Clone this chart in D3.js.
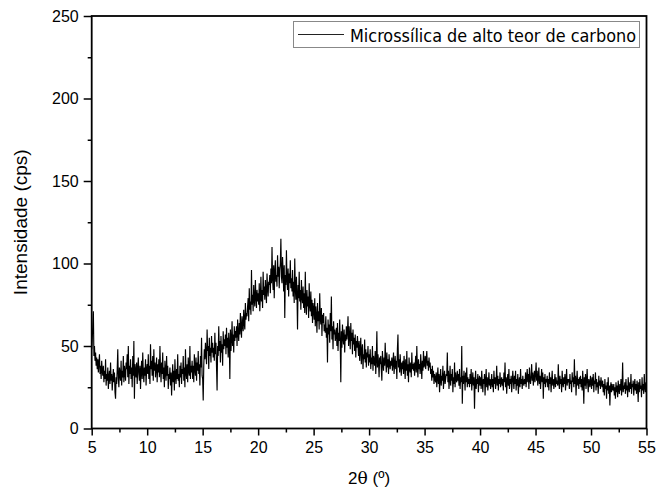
<!DOCTYPE html>
<html lang="pt">
<head>
<meta charset="utf-8">
<title>DRX microssílica</title>
<script src="https://cdn.jsdelivr.net/npm/d3@7"></script>
<style>
  body { margin: 0; background: #fff; }
  text { font-family: "Liberation Sans", Arial, sans-serif; fill: #000; }
</style>
</head>
<body>
<script>
// 2theta grid of the scan: start, step (degrees)
var start = 5, step = 0.05;
// intensity (cps), one row per degree
var counts = [
  48,55,62,71,44,50,41,46,38,43,36,42,34,40,45,33,38,30,41,35,
  32,38,28,35,30,42,26,33,29,37,24,31,35,27,40,29,33,23,30,36,
  28,34,22,18,31,27,36,48,30,25,37,33,29,41,26,35,31,44,28,38,
  34,29,40,36,45,31,50,27,38,33,42,30,37,25,44,32,53,18,39,35,
  31,40,27,36,43,33,29,38,24,35,41,30,46,34,28,37,32,42,26,36,
  39,33,45,30,38,27,51,36,41,32,44,29,48,35,40,31,37,43,28,39,
  34,42,31,50,36,28,40,33,46,30,37,25,41,35,29,44,32,38,24,33,
  30,37,26,34,20,31,39,28,35,23,42,32,27,36,30,45,29,33,25,38,
  31,40,27,36,33,44,29,37,25,48,34,30,39,28,43,35,32,50,30,38,
  34,41,30,38,28,45,36,32,43,29,40,35,47,33,39,26,44,37,55,32,
  30,17,38,48,42,52,45,39,60,47,50,36,55,44,49,40,56,46,52,43,
  49,41,58,45,52,37,23,50,44,62,47,53,40,56,46,51,38,59,48,54,
  50,57,45,61,49,55,43,58,52,30,60,47,54,65,50,57,46,62,53,59,
  55,62,50,66,58,53,64,57,70,61,55,68,63,59,72,64,60,76,66,70,
  68,74,79,65,85,72,77,69,96,75,81,71,87,78,74,90,80,73,84,77,
  82,75,88,71,80,92,77,84,73,95,81,86,78,90,83,76,94,85,80,89,
  87,93,82,97,88,110,91,84,99,79,95,102,89,93,86,105,92,98,85,96,
  100,115,92,88,104,95,83,99,67,93,87,108,90,84,97,80,94,88,102,85,
  91,83,96,80,89,76,103,85,78,92,81,60,87,79,95,77,84,72,90,80,
  76,86,73,82,70,95,77,69,84,74,80,67,88,75,71,83,68,78,64,76,
  72,66,79,62,74,68,58,76,65,71,60,82,67,63,73,56,69,64,70,59,
  63,58,68,55,61,40,66,57,63,52,70,59,80,54,62,48,65,57,60,53,
  56,61,50,64,47,58,53,66,52,28,59,49,63,55,51,60,46,57,53,62,
  54,59,68,50,62,56,48,64,53,58,45,60,51,55,47,57,43,53,49,56,
  50,44,53,41,48,55,39,47,51,36,45,42,54,40,48,37,46,43,50,38,
  45,40,48,36,43,39,50,35,44,41,38,47,33,42,59,37,45,40,31,43,
  39,44,36,29,47,40,35,43,38,52,41,34,46,37,42,33,45,39,36,41,
  38,43,35,40,46,33,39,44,36,41,30,48,57,37,42,34,45,38,32,40,
  36,41,33,44,38,30,42,35,47,32,39,28,43,37,34,40,31,46,36,39,
  35,40,32,38,44,34,50,37,31,42,36,39,33,45,38,30,41,35,47,37,
  39,44,36,42,47,38,41,35,43,37,40,33,36,29,38,31,35,27,33,30,
  28,34,25,31,37,27,33,22,30,36,26,32,29,38,24,31,35,27,30,33,
  32,46,28,35,24,30,38,26,33,29,36,22,31,27,40,25,34,30,28,35,
  29,33,26,36,24,31,28,50,15,32,27,35,30,23,34,28,37,25,31,27,
  30,25,33,27,36,23,29,34,26,31,12,28,35,24,30,27,33,22,29,32,
  26,31,24,35,28,22,30,27,33,20,29,36,25,31,23,28,34,26,30,24,
  28,33,25,30,22,35,27,31,24,29,38,26,32,23,30,27,34,25,29,31,
  26,30,23,34,28,40,25,31,21,29,33,26,36,24,30,27,32,22,28,35,
  29,24,32,27,35,23,30,26,33,21,28,31,25,36,27,30,24,32,28,26,
  30,27,34,25,31,36,28,33,24,37,30,27,32,39,29,34,26,31,35,28,
  33,40,29,35,26,31,37,27,32,24,30,36,28,34,18,31,27,33,25,30,
  28,32,25,30,23,34,27,31,22,29,35,26,30,24,28,33,25,31,27,29,
  26,39,28,24,32,27,30,22,35,28,25,31,27,33,23,29,36,26,30,28,
  30,24,33,27,29,22,34,28,31,25,42,27,32,20,29,35,26,30,24,31,
  27,32,25,30,23,35,28,15,31,26,33,24,29,36,27,22,30,28,25,32,
  28,24,31,26,33,22,29,27,34,23,30,25,28,21,32,26,29,24,31,27,
  25,29,22,27,20,30,24,26,18,28,23,31,21,26,14,25,28,22,27,24,
  23,27,20,25,18,28,22,26,19,29,24,21,27,23,30,20,25,40,22,26,
  24,28,21,30,23,26,19,31,25,22,28,24,33,21,27,25,29,20,26,30,
  23,27,21,29,25,16,28,22,30,24,26,19,31,23,27,21,33,25,22,28,
  26
];
var xTicks = [5, 10, 15, 20, 25, 30, 35, 40, 45, 50, 55];
var yTicks = [0, 50, 100, 150, 200, 250];
var seriesName = "Microssílica de alto teor de carbono";

var w = 657, h = 493;
var plotLeft = 91.7, plotRight = 646.5, plotTop = 16, plotBottom = 428.5;

var svg = d3.select("body").append("svg")
    .attr("width", w)
    .attr("height", h);

var x = d3.scaleLinear().domain([5, 55]).range([plotLeft, plotRight]);
var y = d3.scaleLinear().domain([0, 250]).range([plotBottom, plotTop]);

var data = counts.map(function(c, i) { return [start + i * step, c]; });

var line = d3.line()
    .x(function(d) { return x(d[0]); })
    .y(function(d) { return y(d[1]); });

svg.append("path")
    .datum(data)
    .attr("fill", "none")
    .attr("stroke", "#000")
    .attr("stroke-width", 1.15)
    .attr("d", line);

// minor ticks
var xMinor = d3.axisBottom(x).tickValues(d3.range(7.5, 55, 5)).tickSize(4).tickFormat("");
var yMinor = d3.axisLeft(y).tickValues(d3.range(25, 250, 50)).tickSize(4).tickFormat("");
svg.append("g").attr("transform", "translate(0," + plotBottom + ")").call(xMinor);
svg.append("g").attr("transform", "translate(" + plotLeft + ",0)").call(yMinor);

var xaxis = d3.axisBottom(x).tickValues(xTicks).tickSize(7).tickPadding(6).tickFormat(d3.format("d"));
var yaxis = d3.axisLeft(y).tickValues(yTicks).tickSize(8).tickPadding(5).tickFormat(d3.format("d"));

svg.append("g").attr("class", "x axis")
    .attr("transform", "translate(0," + plotBottom + ")")
    .call(xaxis);
svg.append("g").attr("class", "y axis")
    .attr("transform", "translate(" + plotLeft + ",0)")
    .call(yaxis);

svg.selectAll(".domain").remove();
svg.selectAll(".tick line").attr("stroke", "#000").attr("stroke-width", 1.5);
svg.selectAll(".tick text")
    .style("font-family", "'Liberation Sans', Arial, sans-serif")
    .style("font-size", "16px")
    .attr("fill", "#000");

// frame
svg.append("rect")
    .attr("x", plotLeft).attr("y", plotTop)
    .attr("width", plotRight - plotLeft).attr("height", plotBottom - plotTop)
    .attr("fill", "none")
    .attr("stroke", "#000")
    .attr("stroke-width", 1.8);

// axis titles
var xt = svg.append("text")
    .attr("x", (plotLeft + plotRight) / 2)
    .attr("y", 484)
    .attr("text-anchor", "middle")
    .style("font-size", "17px");
xt.append("tspan").text("2");
xt.append("tspan").style("font-family", "'DejaVu Serif', serif").text("θ");
xt.append("tspan").text(" (º)");

svg.append("text")
    .attr("transform", "translate(27," + ((plotTop + plotBottom) / 2) + ") rotate(-90)")
    .attr("text-anchor", "middle")
    .style("font-size", "19px")
    .text("Intensidade (cps)");

// legend
var lg = svg.append("g");
lg.append("rect")
    .attr("x", 293.5).attr("y", 21.5)
    .attr("width", 346).attr("height", 26)
    .attr("fill", "#fff")
    .attr("stroke", "#888")
    .attr("stroke-width", 1);
lg.append("line")
    .attr("x1", 298).attr("x2", 344)
    .attr("y1", 34.5).attr("y2", 34.5)
    .attr("stroke", "#222")
    .attr("stroke-width", 1);
lg.append("text")
    .attr("x", 350).attr("y", 41.5)
    .attr("textLength", 286)
    .attr("lengthAdjust", "spacingAndGlyphs")
    .style("font-family", "'DejaVu Sans Condensed', 'DejaVu Sans', sans-serif")
    .style("font-size", "17px")
    .text(seriesName);
</script>
</body>
</html>
